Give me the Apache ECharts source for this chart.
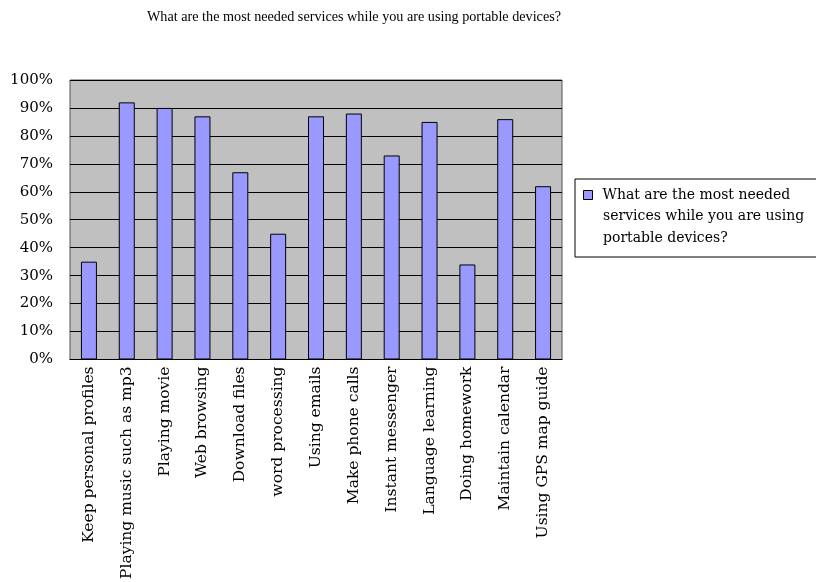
<!DOCTYPE html>
<html><head><meta charset="utf-8">
<script src="https://cdn.jsdelivr.net/npm/echarts@6/dist/echarts.min.js"></script>
<style>html,body{margin:0;padding:0;background:#fff}#c{width:816px;height:582px}</style>
</head><body><div id="c"></div>
<script>
var categories = ["Keep personal profiles","Playing music such as mp3","Playing movie","Web browsing","Download files","word processing","Using emails","Make phone calls","Instant messenger","Language learning","Doing homework","Maintain calendar","Using GPS map guide"];
var values = [35, 92, 90, 87, 67, 45, 87, 88, 73, 85, 34, 86, 62];
var seriesName = "What are the most needed services while you are using portable devices?";
var legendLines = ["What are the most needed", "services while you are using", "portable devices?"];
var titleText = "What are the most needed services while you are using portable devices?";
var SERIF = '"Liberation Serif","Times New Roman",serif';
var WIDE = '"DejaVu Serif",serif';
var chart = echarts.init(document.getElementById('c'));
chart.setOption({
  animation: false,
  backgroundColor: '#fff',
  title: {text: titleText, left: 349, top: 5, textAlign: 'center',
    textStyle: {fontFamily: SERIF, fontSize: 14.2, fontWeight: 'normal', color: '#000'}},
  grid: {left: 70, right: 254, top: 80, bottom: 222, show: true, backgroundColor: '#C0C0C0', borderColor: '#555', borderWidth: 1},
  legend: {
    left: 575, top: 179, orient: 'vertical',
    backgroundColor: '#fff', borderColor: '#000', borderWidth: 1,
    padding: [6, 60, 52, 8],
    icon: 'path://M0,0H10V10H0Z', itemWidth: 19, itemHeight: 9, itemGap: 0,
    itemStyle: {borderColor: '#000', borderWidth: 1},
    formatter: function () { return legendLines[0]; },
    textStyle: {fontFamily: WIDE, fontSize: 14, color: '#000', lineHeight: 20}
  },
  graphic: [{
    type: 'text', left: 603, top: 205, z: 200, zlevel: 1,
    style: {text: legendLines[1] + '\n' + legendLines[2], font: '14px "DejaVu Serif", serif', lineHeight: 22, fill: '#000'}
  }],
  xAxis: {
    type: 'category', data: categories,
    axisLine: {lineStyle: {color: '#000', width: 1}},
    axisTick: {inside: true, length: 5, lineStyle: {color: '#000'}},
    axisLabel: {rotate: 90, interval: 0, margin: 7, fontFamily: WIDE, fontSize: 15.5, color: '#000'}
  },
  yAxis: {
    type: 'value', min: 0, max: 100, interval: 10,
    axisLine: {show: false}, axisTick: {show: false},
    axisLabel: {formatter: '{value}%', margin: 17, fontFamily: WIDE, fontSize: 15, color: '#000'},
    splitLine: {lineStyle: {color: '#000', width: 1}}
  },
  series: [{
    name: seriesName, type: 'bar', data: values, barWidth: 16,
    itemStyle: {color: '#9999FF', borderColor: '#000', borderWidth: 1}
  }]
});
</script></body></html>
